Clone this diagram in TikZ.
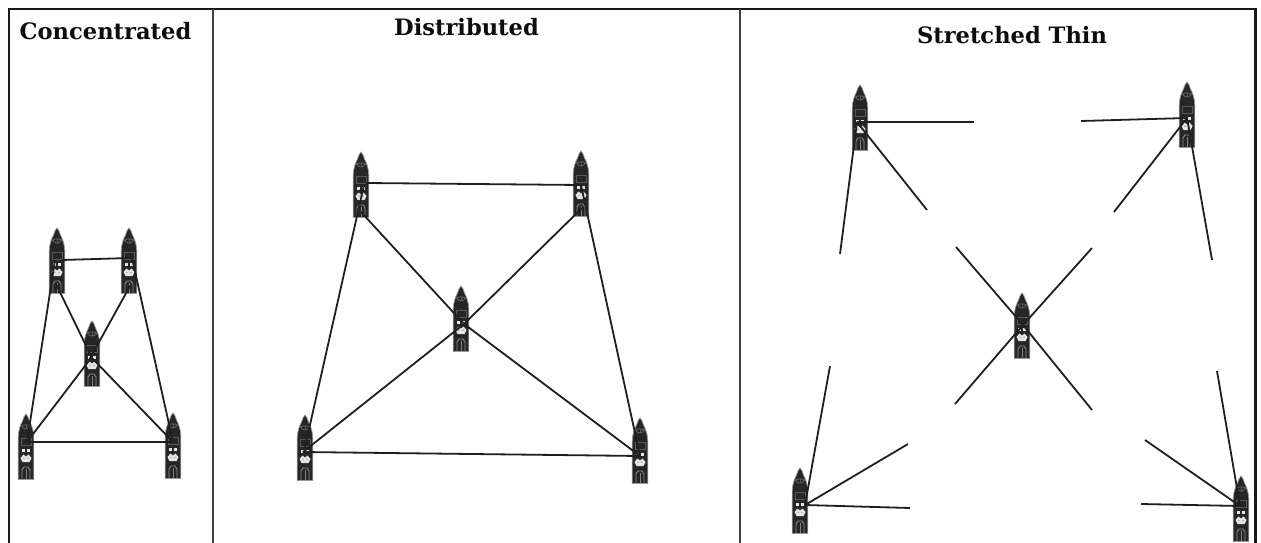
\documentclass[tikz,border=0pt]{standalone}
\usepackage{fontspec}
\setmainfont{DejaVu Serif}
\tikzset{
 x=1pt,y=-1pt,
 frameline/.style={draw=black!90,line width=2.2pt},
 divider/.style={draw=black!75,line width=1.3pt},
 link/.style={draw=black!88,line width=1.8pt,line join=round},
 title/.style={font=\fontsize{22.6}{26}\selectfont\bfseries,text=black!95,inner sep=0pt},
 vessel/.pic={
  \fill[black!85,draw=black!40,line width=.7pt] (0,0) .. controls (1.5,1) and (2.5,4) .. (3.5,7) .. controls (5.5,11) and (7.6,16) .. (7.8,23) -- (7.8,65.5) -- (-7.8,65.5) -- (-7.8,23) .. controls (-7.6,16) and (-5.5,11) .. (-3.5,7) .. controls (-2.5,4) and (-1.5,1) .. cycle;
  \draw[black!60,line width=.8pt] (-4.5,12) .. controls (-2,10.5) and (2,10.5) .. (4.5,12) .. controls (2,16) and (-2,16) .. (-4.5,12);
  \draw[black!65,line width=.5pt] (0,11)--(0,15);
  \draw[black!65,line width=.7pt] (-5,24) rectangle (5,31);
  \fill[white!90!black] (-4.4,35) rectangle (-1.2,38.2);
  \fill[white!90!black] (1.2,35) rectangle (4.4,38.2);
  \fill[white!90!black] (-5.5,44) -- (-2.5,40.5) -- (0,42.5) -- (2.5,40.5) -- (5.5,44) -- (3.5,48) -- (-3.5,48) -- cycle;
  \fill[black!50] (-2,44.2) circle (.7);
  \fill[black!50] (2,44.2) circle (.7);
  \draw[black!45,line width=.9pt] (-4,65) -- (-4,56) -- (-2,53) -- (2,53) -- (4,56) -- (4,65);
  \draw[black!50,line width=.6pt] (0,55) -- (0,65);
 }
}
\begin{document}
\begin{tikzpicture}
\useasboundingbox (0,0) rectangle (1261,543);
\fill[white] (0,0) rectangle (1261,543);
% frame
\coordinate (fTL) at (9,9); \coordinate (fTR) at (1255.5,9);
\coordinate (fBL) at (9,543); \coordinate (fBR) at (1255.5,543);
\coordinate (d1t) at (213,9); \coordinate (d1b) at (213,543);
\coordinate (d2t) at (740,9); \coordinate (d2b) at (740,543);
\draw[frameline] (fBL) -- (fTL) -- (fTR) -- (fBR);
\draw[divider] (d1t) -- (d1b);
\draw[divider] (d2t) -- (d2b);
% titles
\node[title] (t1) at (105.5,31) {Concentrated};
\node[title] (t2) at (466.5,27) {Distributed};
\node[title] (t3) at (1012,35) {Stretched Thin};
% ships
\foreach \x/\y in {57/228,129/228,92/321,26/414,173/413,361/152,581/151,461/286,305/415,640/418,860/85,1187/82,1022/293,800/468,1241/476}
  \pic at (\x,\y) {vessel};
% Concentrated
\coordinate (cTL) at (62,260); \coordinate (cTLo) at (55,260); \coordinate (cTLd) at (56,284);
\coordinate (cTR) at (130,258); \coordinate (cTRo) at (132,258); \coordinate (cTRd) at (130,286);
\coordinate (cM) at (92,358); \coordinate (cMb) at (88,362);
\coordinate (cBL) at (27,442); \coordinate (cBR) at (173,442);
\draw[link] (cTL) -- (cTR);
\draw[link] (cTLo) -- (cBL);
\draw[link] (cTRo) -- (cBR);
\draw[link] (cBL) -- (cBR);
\draw[link] (cTLd) -- (cM) -- (cBR);
\draw[link] (cTRd) -- (cMb) -- (cBL);
% Distributed
\coordinate (dTL) at (366,183); \coordinate (dTLo) at (364,185); \coordinate (dTLd) at (361,212);
\coordinate (dTR) at (581,185); \coordinate (dTRd) at (582,208); \coordinate (dM) at (464,324);
\coordinate (dBL) at (305,447); \coordinate (dBLb) at (303,452); \coordinate (dBR) at (640,456);
\draw[link] (dTL) -- (dTR);
\draw[link] (dTLo) -- (dBL);
\draw[link] (dTR) -- (dBR);
\draw[link] (dBLb) -- (dBR);
\draw[link] (dTLd) -- (dM) -- (dBR);
\draw[link] (dTRd) -- (dM) -- (dBLb);
% Stretched thin
\coordinate (sTL) at (857,122); \coordinate (sTR) at (1187,118); \coordinate (sM) at (1023,325);
\coordinate (sBL) at (805,505); \coordinate (sBR) at (1240,506);
\coordinate (a1) at (974,122); \coordinate (a2) at (927,210); \coordinate (a3) at (840,254);
\coordinate (b1) at (1081,121); \coordinate (b2) at (1114,212); \coordinate (b3) at (1212,260);
\coordinate (m1) at (956,247); \coordinate (m2) at (1092,248); \coordinate (m3) at (955,404); \coordinate (m4) at (1092,410);
\coordinate (e1) at (830,366); \coordinate (e2) at (908,444); \coordinate (e3) at (910,508);
\coordinate (f1) at (1217,371); \coordinate (f2) at (1145,440); \coordinate (f3) at (1141,504);
\draw[link] (sTL) -- (a1);
\draw[link] (sTL) -- (a2);
\draw[link] (sTL) -- (a3);
\draw[link] (sTR) -- (b1);
\draw[link] (sTR) -- (b2);
\draw[link] (sTR) -- (b3);
\draw[link] (sM) -- (m1);
\draw[link] (sM) -- (m2);
\draw[link] (sM) -- (m3);
\draw[link] (sM) -- (m4);
\draw[link] (sBL) -- (e1);
\draw[link] (sBL) -- (e2);
\draw[link] (sBL) -- (e3);
\draw[link] (sBR) -- (f1);
\draw[link] (sBR) -- (f2);
\draw[link] (sBR) -- (f3);
\end{tikzpicture}
\end{document}
